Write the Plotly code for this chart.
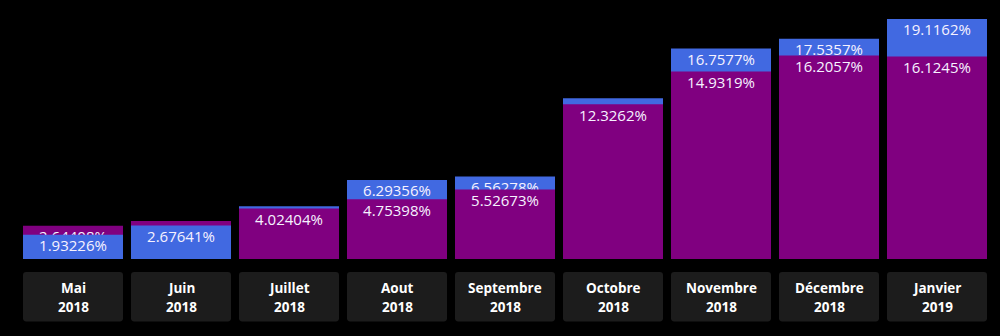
import plotly.graph_objects as go

months = ["Mai", "Juin", "Juillet", "Aout", "Septembre", "Octobre", "Novembre", "Décembre", "Janvier"]
years = ["2018", "2018", "2018", "2018", "2018", "2018", "2018", "2018", "2019"]
purple_vals = [2.64408, 3.03, 4.02404, 4.75398, 5.52673, 12.3262, 14.9319, 16.2057, 16.1245]
blue_vals = [1.93226, 2.67641, 4.21, 6.29356, 6.56278, 12.7986, 16.7577, 17.5357, 19.1162]

PURPLE = "#800080"
BLUE = "#4169E1"
FONT = "Open Sans"
TEXT_COLOR = "#f6f2ff"

Y_MAX = 20.63
PLOT_H = 259          # plot area height in px
LABEL_DROP_PX = 5     # gap between a bar's top and its label

x = list(range(len(months)))

# The taller bar of each month sits behind, the shorter one in front
back_y, back_c, front_y, front_c = [], [], [], []
for p, b in zip(purple_vals, blue_vals):
    if p >= b:
        back_y.append(p); back_c.append(PURPLE)
        front_y.append(b); front_c.append(BLUE)
    else:
        back_y.append(b); back_c.append(BLUE)
        front_y.append(p); front_c.append(PURPLE)

drop = LABEL_DROP_PX * Y_MAX / PLOT_H

fig = go.Figure()
# back layer on (x, y), front layer on the overlaid (x2, y2) so that each
# label sits with its own bar and is covered by the bar in front
for vals, colors, xa, ya in ((back_y, back_c, "x", "y"), (front_y, front_c, "x2", "y2")):
    fig.add_trace(go.Bar(
        x=x, y=vals, xaxis=xa, yaxis=ya,
        marker=dict(color=colors, line=dict(width=0)),
        hoverinfo="skip",
    ))
    fig.add_trace(go.Scatter(
        x=x, y=[v - drop for v in vals], xaxis=xa, yaxis=ya,
        mode="text",
        text=[f"{v:g}%" for v in vals],
        textposition="bottom center",
        textfont=dict(family=FONT, size=15, color=TEXT_COLOR),
        hoverinfo="skip",
        cliponaxis=False,
    ))

# Rounded label boxes under each bar
half = 0.463
rx = 0.03
y_top, y_bot = -0.050, -0.241
ry = 0.012
for i, (m, yr) in enumerate(zip(months, years)):
    x0, x1 = i - half, i + half
    path = (
        f"M {x0+rx},{y_top} L {x1-rx},{y_top} Q {x1},{y_top} {x1},{y_top-ry} "
        f"L {x1},{y_bot+ry} Q {x1},{y_bot} {x1-rx},{y_bot} "
        f"L {x0+rx},{y_bot} Q {x0},{y_bot} {x0},{y_bot+ry} "
        f"L {x0},{y_top-ry} Q {x0},{y_top} {x0+rx},{y_top} Z"
    )
    fig.add_shape(type="path", path=path, xref="x", yref="paper",
                  fillcolor="#1c1c1c", line=dict(width=0), layer="below")
    for txt, yy in ((m, -0.112), (yr, -0.1853)):
        fig.add_annotation(x=i, y=yy, xref="x", yref="paper",
                           text=f"<b>{txt}</b>", showarrow=False,
                           font=dict(family=FONT, size=13.5, color="white"),
                           align="center", yanchor="middle")

xr = [-0.5, len(months) - 0.5]
yr_ = [0, Y_MAX]
fig.update_layout(
    width=1000, height=336,
    margin=dict(l=19, r=9, t=0, b=336 - PLOT_H),
    paper_bgcolor="black", plot_bgcolor="black",
    barmode="overlay", bargap=0.074,
    showlegend=False,
    xaxis=dict(visible=False, range=xr),
    yaxis=dict(visible=False, range=yr_),
    xaxis2=dict(visible=False, range=xr, overlaying="x"),
    yaxis2=dict(visible=False, range=yr_, overlaying="y"),
)

fig.write_html("out.html")
